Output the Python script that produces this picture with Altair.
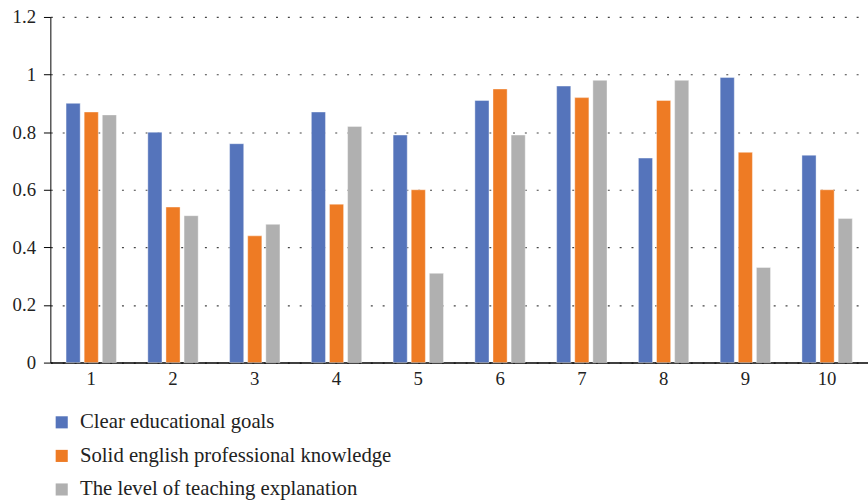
import altair as alt
import pandas as pd

groups = ["1", "2", "3", "4", "5", "6", "7", "8", "9", "10"]
series = [
    "Clear educational goals",
    "Solid english professional knowledge",
    "The level of teaching explanation",
]
goals = [0.90, 0.80, 0.76, 0.87, 0.79, 0.91, 0.96, 0.71, 0.99, 0.72]
knowledge = [0.87, 0.54, 0.44, 0.55, 0.60, 0.95, 0.92, 0.91, 0.73, 0.60]
explanation = [0.86, 0.51, 0.48, 0.82, 0.31, 0.79, 0.98, 0.98, 0.33, 0.50]
colors = ["#5574bb", "#ee7b24", "#b0b0b0"]

rows = []
for name, vals in zip(series, [goals, knowledge, explanation]):
    for g, v in zip(groups, vals):
        rows.append({"group": g, "series": name, "value": v})
df = pd.DataFrame(rows)

font = "Liberation Serif"

chart = (
    alt.Chart(df)
    .mark_bar(stroke="white", strokeOpacity=0.4, strokeWidth=1)
    .encode(
        x=alt.X(
            "group:N",
            sort=groups,
            title=None,
            scale=alt.Scale(paddingInner=0.384, paddingOuter=0.192),
            axis=alt.Axis(
                labelAngle=0,
                ticks=False,
                domainColor="black",
                domainWidth=1.5,
                labelPadding=7,
            ),
        ),
        xOffset=alt.XOffset(
            "series:N", sort=series, scale=alt.Scale(paddingInner=0.22, paddingOuter=0)
        ),
        y=alt.Y(
            "value:Q",
            title=None,
            scale=alt.Scale(domain=[0, 1.2]),
            axis=alt.Axis(
                values=[0, 0.2, 0.4, 0.6, 0.8, 1.0, 1.2],
                labelExpr="datum.value == 1 ? '1' : datum.value == 0 ? '0' : format(datum.value, '.1f')",
                domainColor="black",
                tickColor="black",
                tickSize=7,
                labelPadding=8,
                grid=True,
                gridColor="#444",
                gridDash=[2, 10],
                gridWidth=1.2,
            ),
        ),
        color=alt.Color(
            "series:N",
            sort=series,
            scale=alt.Scale(domain=series, range=colors),
            legend=alt.Legend(
                title=None,
                orient="none",
                legendX=1,
                legendY=400,
                direction="vertical",
                symbolType="square",
                symbolSize=150,
                symbolStrokeWidth=0,
                labelFont=font,
                labelFontSize=21,
                labelColor="#222",
                labelLimit=600,
                rowPadding=12,
                labelOffset=8,
            ),
        ),
    )
    .properties(
        width=828,
        height=350,
        autosize=alt.AutoSizeParams(type="none"),
        padding={"left": 51, "top": 14, "right": 0, "bottom": 138},
    )
    .configure(background="white", font=font)
    .configure_axis(labelFont=font, labelFontSize=19, labelColor="#222")
    .configure_view(stroke=None)
)

chart.save("out.html", embed_options={"renderer": "svg", "actions": False})
